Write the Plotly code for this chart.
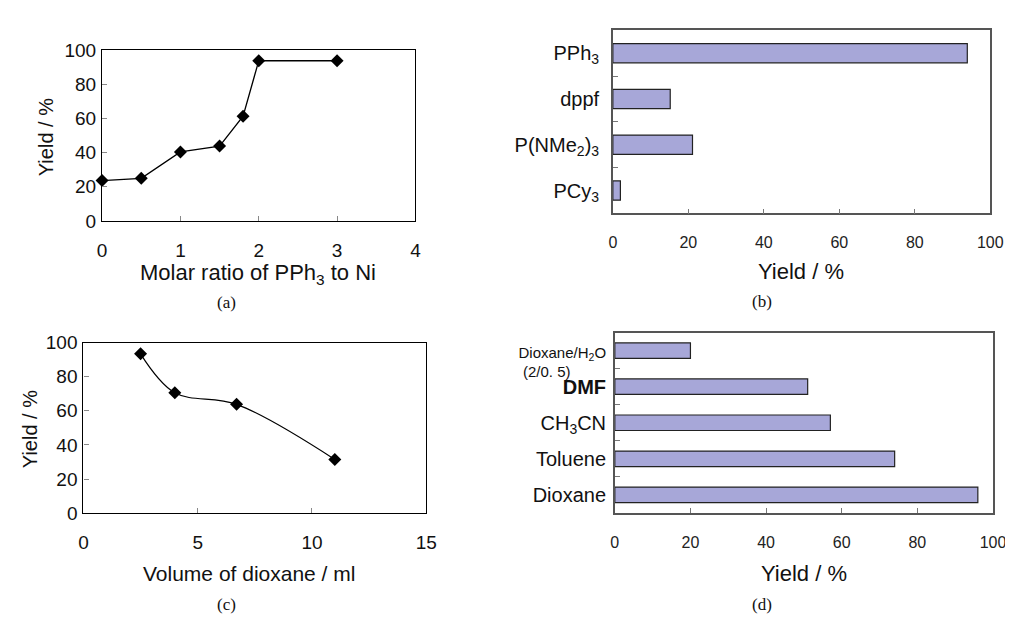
import plotly.graph_objects as go

W, H = 1013, 617

# ---- data ----
a_ratio = [0, 0.5, 1, 1.5, 1.8, 2, 3]
a_yield = [23.6, 24.9, 40.4, 43.8, 61.3, 93.8, 93.8]

b_ligands = ["PCy3", "P(NMe2)3", "dppf", "PPh3"]
b_labels = ["PCy<sub>3</sub>", "P(NMe<sub>2</sub>)<sub>3</sub>", "dppf", "PPh<sub>3</sub>"]
b_yield = [2.0, 21.1, 15.2, 93.9]

c_volume = [2.5, 4, 6.7, 11]
c_yield = [93.4, 70.6, 63.8, 31.5]

d_solvents = ["Dioxane", "Toluene", "CH3CN", "DMF", "Dioxane/H2O"]
d_labels = ["Dioxane", "Toluene", "CH<sub>3</sub>CN", "<b>DMF</b>",
            "<span style='font-size:15px'>Dioxane/H<sub>2</sub>O</span>"]
d_yield = [96, 74, 57, 51, 20]

def px(x): return x / W
def py(y): return 1 - y / H

fig = go.Figure()

BAR_COLOR = "#a7a7d8"
SANS = "Liberation Sans, Arial, sans-serif"
TICKFONT = dict(family=SANS, size=19, color="#111")

# (a)
fig.add_trace(go.Scatter(x=a_ratio, y=a_yield, mode="lines+markers",
                         line=dict(color="black", width=1.3),
                         marker=dict(symbol="diamond", size=10, color="black"),
                         xaxis="x", yaxis="y", showlegend=False, cliponaxis=False))
# (b)
fig.add_trace(go.Bar(y=b_ligands, x=b_yield, orientation="h", width=0.42,
                     marker=dict(color=BAR_COLOR, line=dict(color="#222", width=1.2)),
                     xaxis="x2", yaxis="y2", showlegend=False))
# (c)
fig.add_trace(go.Scatter(x=c_volume, y=c_yield, mode="lines+markers",
                         line=dict(color="black", width=1.2, shape="spline", smoothing=1),
                         marker=dict(symbol="diamond", size=10, color="black"),
                         xaxis="x3", yaxis="y3", showlegend=False))
# (d)
fig.add_trace(go.Bar(y=d_solvents, x=d_yield, orientation="h", width=0.43,
                     marker=dict(color=BAR_COLOR, line=dict(color="#222", width=1.2)),
                     xaxis="x4", yaxis="y4", showlegend=False))

line_ax = dict(showline=True, linecolor="black", linewidth=1.3, mirror=True,
               showgrid=False, zeroline=False, ticks="inside", ticklen=5,
               tickcolor="#888", tickfont=TICKFONT)
bar_base = dict(showline=True, linecolor="#555", linewidth=1.5, mirror=True,
                showgrid=False, zeroline=False, ticks="inside", ticklen=5,
                tickcolor="#777")
bar_xfont = dict(family=SANS, size=16, color="#222")
bar_yfont = dict(family=SANS, size=20, color="#111")

fig.update_layout(
    width=W, height=H, margin=dict(l=0, r=0, t=0, b=0),
    paper_bgcolor="white", plot_bgcolor="white",
    xaxis=dict(domain=[px(90.7), px(409.7)], anchor="y", range=[0, 4], dtick=1,
               ticklabelstandoff=12, **line_ax),
    yaxis=dict(domain=[py(210), py(33.3)], anchor="x", range=[0, 100], dtick=20,
               ticklabelstandoff=1, **line_ax),
    xaxis2=dict(domain=[px(610.7), px(995)], anchor="y2", range=[0, 100], dtick=20,
                ticklabelstandoff=14, tickfont=bar_xfont, **bar_base),
    yaxis2=dict(domain=[py(202.3), py(12.7)], anchor="x2", range=[-0.5, 3.5],
                type="category", tickmode="array", tickvals=b_ligands, ticktext=b_labels,
                tickson="boundaries", ticklabelstandoff=8, tickfont=bar_yfont, **bar_base),
    xaxis3=dict(domain=[px(71.7), px(420.7)], anchor="y3", range=[0, 15], dtick=5,
                ticklabelstandoff=12, **line_ax),
    yaxis3=dict(domain=[py(512.7), py(336)], anchor="x3", range=[0, 100], dtick=20,
                ticklabelstandoff=1, **line_ax),
    xaxis4=dict(domain=[px(612.7), px(997.7)], anchor="y4", range=[0, 100], dtick=20,
                ticklabelstandoff=14, tickfont=bar_xfont, **bar_base),
    yaxis4=dict(domain=[py(512.3), py(325.7)], anchor="x4", range=[-0.5, 4.5],
                type="category", tickmode="array", tickvals=d_solvents, ticktext=d_labels,
                tickson="boundaries", ticklabelstandoff=3, tickfont=bar_yfont, **bar_base),
)

ann = []
def add(text, x, y, font, angle=0, xanchor="center"):
    ann.append(dict(text=text, x=px(x), y=py(y), xref="paper", yref="paper",
                    showarrow=False, font=font, textangle=angle, xanchor=xanchor,
                    yanchor="middle"))

ytitle_font = dict(family=SANS, size=20, color="#111")
add("Yield / %", 33, 123, ytitle_font, angle=-90)
add("Yield / %", 17, 426, ytitle_font, angle=-90)
add("Molar ratio of PPh<sub>3</sub> to Ni", 249, 265, dict(family=SANS, size=22, color="#111"))
add("Volume of dioxane / ml", 240, 575, dict(family=SANS, size=21, color="#111"))
add("Yield / %", 802, 262, dict(family=SANS, size=22, color="#111"))
add("Yield / %", 805, 575, dict(family=SANS, size=22, color="#111"))
add("(2/0. 5)", 517, 366, dict(family=SANS, size=15, color="#111"), xanchor="left")
sub_font = dict(family="Liberation Serif, Times New Roman, serif", size=17, color="#111")
add("(a)", 217, 295, sub_font)
add("(b)", 763, 294, sub_font)
add("(c)", 217, 607, sub_font)
add("(d)", 763, 607, sub_font)
fig.update_layout(annotations=ann)

fig.write_html("out.html")
